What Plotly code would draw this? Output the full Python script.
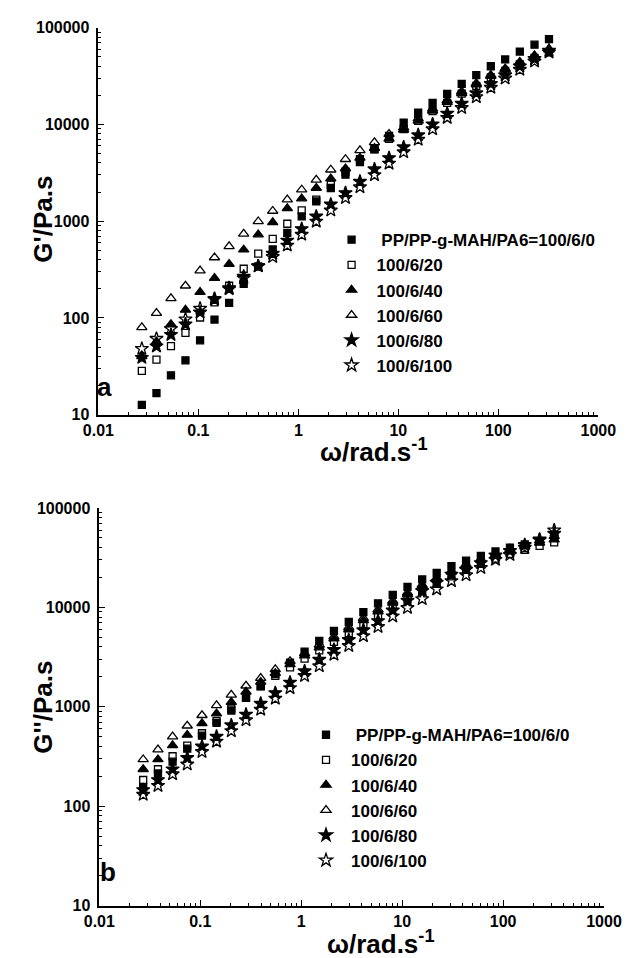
import plotly.graph_objects as go

# ---------------- data ----------------
omega = [0.0272, 0.0381, 0.0532, 0.0743, 0.104, 0.145, 0.203, 0.284, 0.397, 0.554,
         0.775, 1.08, 1.51, 2.11, 2.96, 4.13, 5.77, 8.07, 11.3, 15.8,
         22.0, 30.8, 43.0, 60.2, 84.1, 117, 164, 230, 321]

series_names = ["\u00a0PP/PP-g-MAH/PA6=100/6/0", "100/6/20", "100/6/40",
                "100/6/60", "100/6/80", "100/6/100"]

# panel a: G'
gp_0 = [12.6, 16.7, 25.5, 36.4, 58.6, 96, 143, 225, 340, 510, 755, 1120, 1600, 2200, 3020,
        4070, 5560, 7590, 10400, 13200, 16700, 20700, 26200, 32300, 39900, 47000, 56600, 66700, 76200]
gp_20 = [28.4, 37, 51, 70, 101, 145, 215, 322, 462, 656, 940, 1290, 1670, 2380, 3250,
         4370, 5510, 7080, 8940, 10900, 13700, 16700, 20800, 25000, 30600, 35700, 41800, 48800, 55700]
gp_40 = [40, 57, 86, 121, 185, 258, 360, 507, 726, 970, 1355, 1710, 2200, 2750, 3500,
         4500, 5700, 7100, 8800, 10900, 13800, 17000, 21000, 25800, 31500, 37000, 43500, 51000, 59000]
gp_60 = [80, 112, 159, 215, 308, 421, 548, 738, 993, 1274, 1671, 2113, 2669, 3400, 4365,
         5385, 6535, 7940, 9270, 11450, 14450, 17740, 21880, 26600, 32300, 37800, 44200, 51500, 60300]
gp_80 = [38.8, 51, 67, 86, 114, 155, 204, 268, 343, 462, 631, 830, 1120, 1490, 1955,
         2565, 3450, 4500, 5820, 7760, 10040, 12980, 16400, 21050, 26200, 32300, 39900, 47700, 58000]
gp_100 = [48, 61, 77, 97, 125, 158, 199, 258, 343, 428, 561, 726, 993, 1294, 1738,
          2250, 3000, 3945, 5180, 6970, 8935, 11720, 14820, 19190, 24040, 29900, 36900, 44800, 55700]

# panel b: G''
gpp_0 = [155, 214, 281, 380, 513, 690, 920, 1230, 1620, 2140, 2790, 3590, 4600, 5800, 7140,
         8970, 11000, 13400, 16100, 19100, 22300, 26000, 29500, 33000, 36500, 40000, 43000, 46500, 50000]
gpp_20 = [184, 236, 319, 407, 543, 720, 960, 1250, 1607, 2049, 2500, 3050, 3700, 4500, 5500,
          6700, 8200, 10000, 12100, 14500, 17300, 20500, 24000, 27500, 31000, 34500, 38000, 41500, 45000]
gpp_40 = [236, 296, 410, 522, 682, 857, 1117, 1420, 1780, 2180, 2680, 3280, 3950, 4850, 6000,
          7400, 9100, 11100, 13500, 16300, 19300, 22800, 26500, 30000, 34000, 38000, 42500, 47000, 52000]
gpp_60 = [296, 372, 503, 646, 824, 1035, 1321, 1630, 1950, 2382, 2877, 3450, 4205, 5080, 6300,
          7800, 9500, 11600, 14000, 16800, 19800, 23300, 27000, 30500, 34000, 37500, 41000, 44500, 48000]
gpp_80 = [146, 184, 236, 307, 401, 503, 656, 838, 1080, 1380, 1759, 2290, 2990, 3755, 4720,
          5920, 7310, 9330, 11720, 14700, 17750, 21450, 24040, 28000, 33350, 37100, 42500, 48300, 55300]
gpp_100 = [131, 161, 211, 264, 353, 449, 572, 736, 940, 1215, 1550, 2049, 2570, 3350, 4110,
           5160, 6380, 8150, 9910, 12170, 15250, 18450, 21150, 25000, 30200, 33800, 40000, 47500, 59700]

y_ticks = [10, 100, 1000, 10000, 100000]
x_ticks = [0.01, 0.1, 1, 10, 100, 1000]
x_ticktext = ["0.01", "0.1", "1", "10", "100", "1000"]

# ---------------- style ----------------
symbols = ["square", "square-open", "triangle-up", "triangle-up-open", "star", "star-open"]
sizes = [7, 7, 9, 9, 10, 10]
FONT = "Liberation Sans, Arial, sans-serif"

fig = go.Figure()

top = [gp_0, gp_20, gp_40, gp_60, gp_80, gp_100]
bot = [gpp_0, gpp_20, gpp_40, gpp_60, gpp_80, gpp_100]

for i, ys in enumerate(top):
    fig.add_trace(go.Scatter(
        x=omega, y=ys, mode="markers", name=series_names[i],
        marker=dict(symbol=symbols[i], size=sizes[i], color="black",
                    line=dict(color="black", width=1.3)),
        xaxis="x", yaxis="y", legend="legend", legendgroup="a%d" % i))

for i, ys in enumerate(bot):
    fig.add_trace(go.Scatter(
        x=omega, y=ys, mode="markers", name=series_names[i],
        marker=dict(symbol=symbols[i], size=sizes[i], color="black",
                    line=dict(color="black", width=1.3)),
        xaxis="x2", yaxis="y2", legend="legend2", legendgroup="b%d" % i))

W, H = 640, 958

def px_x(p):
    return p / W

def px_y(p):
    return 1 - p / H

axis_common = dict(
    type="log", showline=True, linecolor="black", linewidth=1.6,
    ticks="inside", ticklen=6, tickwidth=1.3, tickcolor="black",
    showgrid=False, zeroline=False, mirror=False,
    tickfont=dict(family=FONT, size=16, color="black", weight="bold"),
    minor=dict(ticks="inside", ticklen=3, tickwidth=1, tickcolor="black",
               dtick="D1", showgrid=False),
)

fig.update_layout(
    width=W, height=H,
    margin=dict(l=0, r=0, t=0, b=0),
    paper_bgcolor="white", plot_bgcolor="white",
    showlegend=True,
    xaxis=dict(axis_common, domain=[px_x(87), px_x(615)], range=[-2, 3],
               anchor="y", tickvals=x_ticks, ticktext=x_ticktext),
    yaxis=dict(axis_common, domain=[px_y(414), px_y(20)], range=[1, 5],
               anchor="x", tickvals=y_ticks, ticktext=[str(v) for v in y_ticks],
               ticklabelstandoff=4),
    xaxis2=dict(axis_common, domain=[px_x(88), px_x(621)], range=[-2, 3],
                anchor="y2", tickvals=x_ticks, ticktext=x_ticktext),
    yaxis2=dict(axis_common, domain=[px_y(914), px_y(509)], range=[1, 5],
                anchor="x2", tickvals=y_ticks, ticktext=[str(v) for v in y_ticks],
                ticklabelstandoff=4),
    legend=dict(x=px_x(328), y=px_y(218), xanchor="left", yanchor="top",
                font=dict(family=FONT, size=17, color="black", weight="bold"),
                bgcolor="rgba(0,0,0,0)", itemwidth=40, tracegroupgap=0,
                traceorder="normal"),
    legend2=dict(x=px_x(301), y=px_y(722), xanchor="left", yanchor="top",
                 font=dict(family=FONT, size=17, color="black", weight="bold"),
                 bgcolor="rgba(0,0,0,0)", itemwidth=40, tracegroupgap=0,
                 traceorder="normal"),
)

title_font = dict(family=FONT, size=26, color="black", weight="bold")
annots = [
    dict(text="G'/Pa.s", x=px_x(29), y=px_y(215), textangle=-90),
    dict(text="ω/rad.s<sup>-1</sup>", x=px_x(378), y=px_y(450), textangle=0),
    dict(text="G''/Pa.s", x=px_x(29), y=px_y(712), textangle=-90),
    dict(text="ω/rad.s<sup>-1</sup>", x=px_x(386), y=px_y(951), textangle=0),
    dict(text="a", x=px_x(93), y=px_y(386), textangle=0),
    dict(text="b", x=px_x(97), y=px_y(880), textangle=0),
]
for a in annots:
    fig.add_annotation(text=a["text"], x=a["x"], y=a["y"], xref="paper", yref="paper",
                       xanchor="center", yanchor="middle", showarrow=False,
                       textangle=a["textangle"], font=title_font)

fig.write_html("out.html")
